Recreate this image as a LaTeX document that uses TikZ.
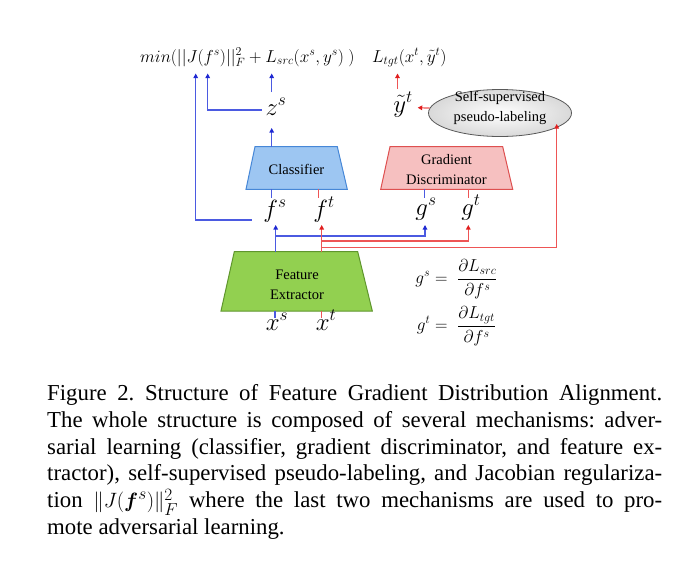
\documentclass[tikz,border=0pt]{standalone}
\usepackage{amsmath}
\usepackage{fontspec}
\setmainfont{Liberation Serif}
\usetikzlibrary{arrows.meta,shapes.geometric}
\definecolor{bline}{RGB}{75,90,225}
\definecolor{rline}{RGB}{238,85,85}
\definecolor{btip}{RGB}{30,40,210}
\definecolor{rtip}{RGB}{225,30,30}
\definecolor{clsfill}{RGB}{157,198,242}
\definecolor{clsdraw}{RGB}{70,135,215}
\definecolor{gdfill}{RGB}{246,192,192}
\definecolor{gddraw}{RGB}{222,80,80}
\definecolor{fefill}{RGB}{146,208,80}
\definecolor{fedraw}{RGB}{95,150,45}
\tikzset{
  bln/.style={draw=bline,line width=1.2pt},
  rln/.style={draw=rline,line width=1.2pt},
  bar/.style={bln,-{Triangle[length=4.5pt,width=4.5pt,color=btip]}},
  rar/.style={rln,-{Triangle[length=4.5pt,width=4.5pt,color=rtip]}},
  lab/.style={inner sep=0pt,anchor=base,font=\fontsize{23}{26}\selectfont},
  boxtxt/.style={inner sep=0pt,align=center,font=\fontsize{14.5}{20}\selectfont},
  eqn/.style={inner sep=0pt,font=\fontsize{16.5}{20}\selectfont},
}
\begin{document}
\begin{tikzpicture}[x=1pt,y=-1pt]
\useasboundingbox[fill=white] (0,0) rectangle (699,562);
% formulas
\node[inner sep=0pt,anchor=base west,font=\fontsize{17.2}{20}\selectfont] (loss1) at (140,62) {$min(||J(f^s)||_F^2+L_{src}(x^s,y^s)\ )$};
\node[inner sep=0pt,anchor=base west,font=\fontsize{17.2}{20}\selectfont] (loss2) at (372,62) {$L_{tgt}(x^t,\tilde{y}^t)$};
% trapezoids
\draw[fill=clsfill,draw=clsdraw,line width=1pt] (246,189.3) -- (255,146.7) -- (337.3,146.7) -- (347.3,189.3) -- cycle;
\node[boxtxt] (cls) at (296.5,169) {Classifier};
\draw[fill=gdfill,draw=gddraw,line width=1pt] (380.7,189.3) -- (390,146.7) -- (502.7,146.7) -- (512.7,189.3) -- cycle;
\node[boxtxt] (gd) at (446.5,170) {Gradient\\Discriminator};
\draw[fill=fefill,draw=fedraw,line width=1pt] (221,311) -- (234.3,251.7) -- (357.7,251.7) -- (372.3,311) -- cycle;
\node[boxtxt] (fe) at (297,284.5) {Feature\\Extractor};
% ellipse
\node[ellipse,draw=gray!70!black,line width=0.8pt,inner color=white,outer color=gray!30,minimum width=143pt,minimum height=47pt] (ssl) at (500,113) {};
\node[boxtxt] (ssltxt) at (500,108) {Self-supervised\\pseudo-labeling};
% labels
\node[lab] (zs) at (276,115) {$z^s$};
\node[lab] (yt) at (403,112) {$\tilde{y}^t$};
\node[lab] (fs) at (275,217) {$f^s$};
\node[lab] (ft) at (324,217) {$f^t$};
\node[lab] (gs) at (426,215) {$g^s$};
\node[lab] (gt) at (471,215) {$g^t$};
\node[lab] (xs) at (277,330) {$x^s$};
\node[lab] (xt) at (326,330) {$x^t$};
\node[eqn] (eqs) at (456.5,279) {$g^s=\;\dfrac{\partial L_{src}}{\partial f^s}$};
\node[eqn] (eqt) at (456.5,326) {$g^t=\;\dfrac{\partial L_{tgt}}{\partial f^s}$};
% coordinates
\coordinate (a1) at (195.7,73.5);
\coordinate (a2) at (207.7,73.5);
\coordinate (a3) at (271.7,73.5);
\coordinate (a4) at (397.5,73.5);
\coordinate (fsL) at (251.7,220);
\coordinate (zsL) at (261.7,110);
\coordinate (zsT) at (271.7,92);
\coordinate (zsB) at (271.7,128);
\coordinate (clsT) at (271.7,146.7);
\coordinate (clsB1) at (271.7,189.3);
\coordinate (clsB2) at (318.3,189.3);
\coordinate (fsT) at (271.7,198.3);
\coordinate (ftT) at (318.3,198.3);
\coordinate (gdB1) at (424.3,189.3);
\coordinate (gdB2) at (468.3,189.3);
\coordinate (gsT) at (424.3,198.3);
\coordinate (gtT) at (468.3,198.3);
\coordinate (feT1) at (275.7,251.7);
\coordinate (feT2) at (321.7,251.7);
\coordinate (fsB) at (275.7,225);
\coordinate (ftB) at (321.7,225);
\coordinate (b1) at (275.7,236);
\coordinate (gsB) at (425,225);
\coordinate (r1) at (321.7,241);
\coordinate (gtB) at (468.3,225);
\coordinate (r2) at (321.7,247.3);
\coordinate (sslB) at (556.7,124);
\coordinate (ytR) at (417.7,107.7);
\coordinate (ytT) at (397.5,89);
\coordinate (feB1) at (275,311);
\coordinate (feB2) at (321.7,311);
\coordinate (xsT) at (275,318.3);
\coordinate (xtT) at (321.7,318.3);
% connectors
\draw[bar] (fsL) -| (a1);
\draw[bar] (zsL) -| (a2);
\draw[bar] (zsT) -- (a3);
\draw[bar] (clsT) -- (zsB);
\draw[bln] (clsB1) -- (fsT);
\draw[rln] (clsB2) -- (ftT);
\draw[bln] (gdB1) -- (gsT);
\draw[rln] (gdB2) -- (gtT);
\draw[bar] (feT1) -- (fsB);
\draw[bar] (b1) -| (gsB);
\draw[rar] (feT2) -- (ftB);
\draw[rar] (r1) -| (gtB);
\draw[rar] (r2) -| (sslB);
\draw[rar] (ssl.176) -- (ytR);
\draw[rar] (ytT) -- (a4);
\draw[bln] (feB1) -- (xsT);
\draw[rln] (feB2) -- (xtT);
% caption
\node[inner sep=0pt,anchor=base west,text width=615pt,align=justify,font=\fontsize{22.8}{26.8}\selectfont] (cap) at (47,400.5) {\frenchspacing\tolerance=9999\hyphenpenalty=10000\relax
Figure 2. Structure of Feature Gradient Distribution Alignment.\linebreak
The whole structure is composed of several mechanisms: adver-\linebreak
sarial learning (classifier, gradient discriminator, and feature ex-\linebreak
tractor), self-supervised pseudo-labeling, and Jacobian regulariza-\linebreak
tion $\|J(\boldsymbol{f}^s)\|_F^2$ where the last two mechanisms are used to pro-\linebreak
mote adversarial learning.};
\end{tikzpicture}
\end{document}
